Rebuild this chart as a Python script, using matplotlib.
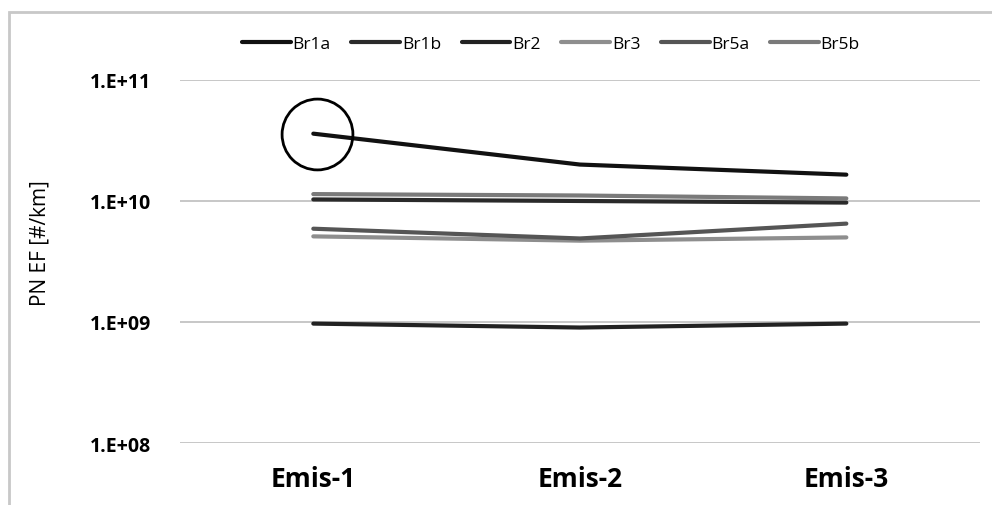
"""PN emission factors per brake, log scale"""
import matplotlib.pyplot as plt
from matplotlib.patches import Rectangle

plt.rcParams['font.family'] = ['Open Sans', 'DejaVu Sans']

# Data
categories = ['Emis-1', 'Emis-2', 'Emis-3']
br1a = [3.6e10, 2.0e10, 1.65e10]
br1b = [1.03e10, 1.0e10, 0.97e10]
br2 = [0.97e9, 0.90e9, 0.97e9]
br3 = [5.1e9, 4.7e9, 5.0e9]
br5a = [5.9e9, 4.9e9, 6.5e9]
br5b = [1.14e10, 1.11e10, 1.05e10]
y_ticks = [1e8, 1e9, 1e10, 1e11]
y_tick_labels = ['1.E+08', '1.E+09', '1.E+10', '1.E+11']

fig = plt.figure(figsize=(9.92, 5.06), dpi=100)
ax = fig.add_axes([0.1815, 0.1225, 0.806, 0.7175])

# Outer chart frame
fig.patches.append(Rectangle((9 / 992, -0.1), 1.2, 1 - 13 / 506 + 0.1, transform=fig.transFigure,
                             fill=False, ec='#c8c8c8', lw=2))

x = list(range(len(categories)))
styles = [
    ('Br1a', br1a, '#111111'),
    ('Br1b', br1b, '#2a2a2a'),
    ('Br2', br2, '#222222'),
    ('Br3', br3, '#8e8e8e'),
    ('Br5a', br5a, '#555555'),
    ('Br5b', br5b, '#7a7a7a'),
]
handles = []
for name, vals, col in styles:
    l, = ax.plot(x, vals, color=col, lw=3, solid_capstyle='round', label=name, zorder=3)
    handles.append(l)

# Highlight circle on first Br1a point
ax.plot(x[0] + 0.012, br1a[0], marker='o', ms=51, mfc='none', mec='black', mew=2, zorder=4)

ax.set_yscale('log')
ax.set_ylim(1e8, 1e11)
ax.set_xlim(-0.5, 2.5)
ax.set_yticks(y_ticks)
ax.set_yticklabels(y_tick_labels, fontsize=14, fontweight='bold')
ax.minorticks_off()
ax.set_xticks(x)
ax.set_xticklabels(categories, fontsize=19, fontweight='bold')
ax.tick_params(axis='both', length=0)
ax.tick_params(axis='y', pad=21)
ax.tick_params(axis='x', pad=16)
ax.yaxis.grid(True, color='#bdbdbd', lw=1.2)
ax.set_axisbelow(True)
for s in ax.spines.values():
    s.set_visible(False)

fig.text(40 / 992, 1 - 243 / 506, 'PN EF [#/km]', rotation=90, fontsize=15,
         ha='center', va='center')

fig.legend(handles=handles, loc='center', bbox_to_anchor=(551 / 992, 1 - 45 / 506), ncol=6,
           frameon=False, fontsize=12.5, handlelength=2.8, handletextpad=0.1, columnspacing=1.2)

fig.savefig('out.png', dpi=100)
